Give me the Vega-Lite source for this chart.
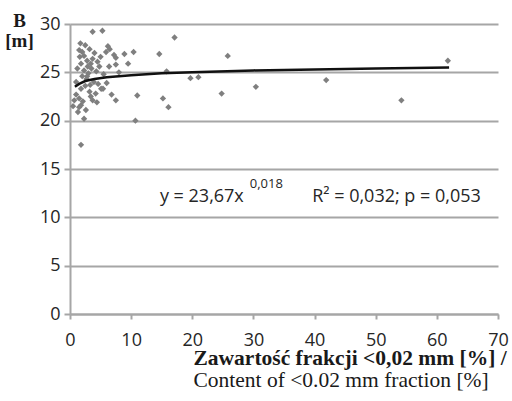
{
  "$schema": "https://vega.github.io/schema/vega-lite/v6.json",
  "width": 428,
  "height": 290,
  "autosize": "none",
  "padding": {"left": 70, "top": 24, "right": 14, "bottom": 87},
  "background": "white",
  "data": {"values": [{}]},
  "config": {
    "view": {"stroke": null},
    "axis": {
      "labelFont": "Open Sans",
      "labelFontSize": 18,
      "labelColor": "#262626",
      "domainColor": "#a6a6a6",
      "domainWidth": 2,
      "tickColor": "#a6a6a6",
      "tickWidth": 2,
      "gridColor": "#a6a6a6",
      "gridWidth": 2
    }
  },
  "datasets": {
    "pts": [
      {"x": 3.7, "y": 29.2}, {"x": 5.3, "y": 29.3}, {"x": 17.1, "y": 28.6}, {"x": 1.7, "y": 28.0},
      {"x": 1.5, "y": 27.3}, {"x": 3.2, "y": 27.4}, {"x": 2.5, "y": 27.8}, {"x": 6.2, "y": 27.7},
      {"x": 5.9, "y": 27.1}, {"x": 6.5, "y": 27.4}, {"x": 7.2, "y": 26.8}, {"x": 8.9, "y": 26.9},
      {"x": 10.4, "y": 27.1}, {"x": 9.5, "y": 25.9}, {"x": 7.5, "y": 26.5}, {"x": 14.6, "y": 26.9},
      {"x": 25.8, "y": 26.7}, {"x": 61.8, "y": 26.2}, {"x": 1.6, "y": 26.6}, {"x": 2.3, "y": 26.7},
      {"x": 3.7, "y": 26.4}, {"x": 2.8, "y": 26.2}, {"x": 4.5, "y": 26.1}, {"x": 1.8, "y": 25.9},
      {"x": 2.9, "y": 25.6}, {"x": 4.8, "y": 25.6}, {"x": 6.4, "y": 25.6}, {"x": 7.5, "y": 25.8},
      {"x": 2.3, "y": 25.2}, {"x": 4.3, "y": 25.1}, {"x": 3.5, "y": 25.4}, {"x": 1.2, "y": 25.4},
      {"x": 15.8, "y": 25.1}, {"x": 5.5, "y": 24.8}, {"x": 8.0, "y": 25.0}, {"x": 3.0, "y": 24.9},
      {"x": 2.0, "y": 24.6}, {"x": 19.7, "y": 24.4}, {"x": 21.0, "y": 24.5}, {"x": 41.9, "y": 24.2},
      {"x": 1.0, "y": 24.0}, {"x": 2.7, "y": 24.3}, {"x": 3.9, "y": 24.0}, {"x": 4.6, "y": 23.8},
      {"x": 1.8, "y": 23.3}, {"x": 3.2, "y": 23.0}, {"x": 3.4, "y": 22.5}, {"x": 5.1, "y": 23.3},
      {"x": 5.4, "y": 23.3}, {"x": 6.8, "y": 22.7}, {"x": 7.5, "y": 22.1}, {"x": 3.7, "y": 22.1},
      {"x": 1.5, "y": 22.3}, {"x": 0.7, "y": 22.1}, {"x": 1.8, "y": 21.6}, {"x": 1.3, "y": 20.9},
      {"x": 2.3, "y": 20.2}, {"x": 1.5, "y": 21.4}, {"x": 1.0, "y": 22.7}, {"x": 11.0, "y": 22.6},
      {"x": 15.2, "y": 22.3}, {"x": 16.1, "y": 21.4}, {"x": 10.7, "y": 20.0}, {"x": 24.8, "y": 22.8},
      {"x": 30.4, "y": 23.5}, {"x": 54.2, "y": 22.1}, {"x": 1.8, "y": 17.5}, {"x": 2.5, "y": 23.6},
      {"x": 4.2, "y": 22.8}, {"x": 2.1, "y": 22.0}, {"x": 0.5, "y": 21.5}, {"x": 2.8, "y": 24.6},
      {"x": 3.3, "y": 23.7}, {"x": 6.0, "y": 23.9}, {"x": 4.0, "y": 27.0}, {"x": 2.0, "y": 27.1},
      {"x": 5.0, "y": 26.6}, {"x": 3.4, "y": 25.9}, {"x": 2.6, "y": 21.1}, {"x": 4.4, "y": 21.9}
    ],
    "fit": [
      {"x": 0.8, "y": 23.5}, {"x": 1.5, "y": 23.8}, {"x": 2.5, "y": 24.1}, {"x": 4, "y": 24.3},
      {"x": 6, "y": 24.5}, {"x": 10, "y": 24.7}, {"x": 15, "y": 24.9}, {"x": 20, "y": 25.0},
      {"x": 30, "y": 25.2}, {"x": 40, "y": 25.3}, {"x": 50, "y": 25.4}, {"x": 62, "y": 25.5}
    ]
  },
  "resolve": {"axis": {"x": "independent"}},
  "layer": [
    {
      "data": {"name": "pts"},
      "mark": {"type": "point", "shape": "diamond", "filled": true, "color": "#7f7f7f", "size": 40, "opacity": 1},
      "encoding": {
        "x": {
          "field": "x", "type": "quantitative",
          "scale": {"domain": [0, 70], "nice": false},
          "axis": {
            "orient": "bottom",
            "values": [0, 10, 20, 30, 40, 50, 60, 70],
            "grid": false,
            "tickSize": 5,
            "labelPadding": 12,
            "labelFlush": false,
            "title": "Zawartość frakcji <0,02 mm [%] /",
            "titleFont": "Liberation Serif",
            "titleFontSize": 21.5,
            "titleFontWeight": "bold",
            "titleColor": "#1a1a1a",
            "titleAlign": "left",
            "titleBaseline": "alphabetic",
            "titleX": 123,
            "titleY": 50
          }
        },
        "y": {
          "field": "y", "type": "quantitative",
          "scale": {"domain": [0, 30], "nice": false},
          "axis": {
            "values": [0, 5, 10, 15, 20, 25, 30],
            "grid": true,
            "tickSize": 6,
            "labelPadding": 4,
            "labelFlush": false,
            "title": ["B", "[m]"],
            "titleFont": "Liberation Serif",
            "titleFontSize": 19,
            "titleFontWeight": "bold",
            "titleColor": "#1a1a1a",
            "titleAngle": 0,
            "titleAlign": "center",
            "titleBaseline": "alphabetic",
            "titleLineHeight": 20,
            "titleX": -51,
            "titleY": 2
          }
        }
      }
    },
    {
      "data": {"name": "fit"},
      "mark": {"type": "line", "color": "#111111", "strokeWidth": 2.5},
      "encoding": {
        "x": {
          "field": "x", "type": "quantitative",
          "axis": {
            "orient": "bottom",
            "labels": false, "ticks": false, "domain": false, "grid": false,
            "title": "Content of <0.02 mm fraction [%]",
            "titleFont": "Liberation Serif",
            "titleFontSize": 21.5,
            "titleFontWeight": "normal",
            "titleColor": "#1a1a1a",
            "titleAlign": "left",
            "titleBaseline": "alphabetic",
            "titleX": 123,
            "titleY": 72
          }
        },
        "y": {"field": "y", "type": "quantitative"}
      }
    },
    {
      "mark": {"type": "text", "text": "y = 23,67x", "align": "left", "baseline": "alphabetic", "font": "Open Sans", "fontSize": 18, "color": "#262626"},
      "encoding": {
        "x": {"datum": 14.7, "type": "quantitative", "axis": null},
        "y": {"datum": 11.6, "type": "quantitative"}
      }
    },
    {
      "mark": {"type": "text", "text": "0,018", "align": "left", "baseline": "alphabetic", "font": "Open Sans", "fontSize": 13, "color": "#262626"},
      "encoding": {
        "x": {"datum": 29.4, "type": "quantitative", "axis": null},
        "y": {"datum": 13.0, "type": "quantitative"}
      }
    },
    {
      "mark": {"type": "text", "text": "R² = 0,032; p = 0,053", "align": "left", "baseline": "alphabetic", "font": "Open Sans", "fontSize": 18, "color": "#262626"},
      "encoding": {
        "x": {"datum": 39.6, "type": "quantitative", "axis": null},
        "y": {"datum": 11.6, "type": "quantitative"}
      }
    }
  ]
}
